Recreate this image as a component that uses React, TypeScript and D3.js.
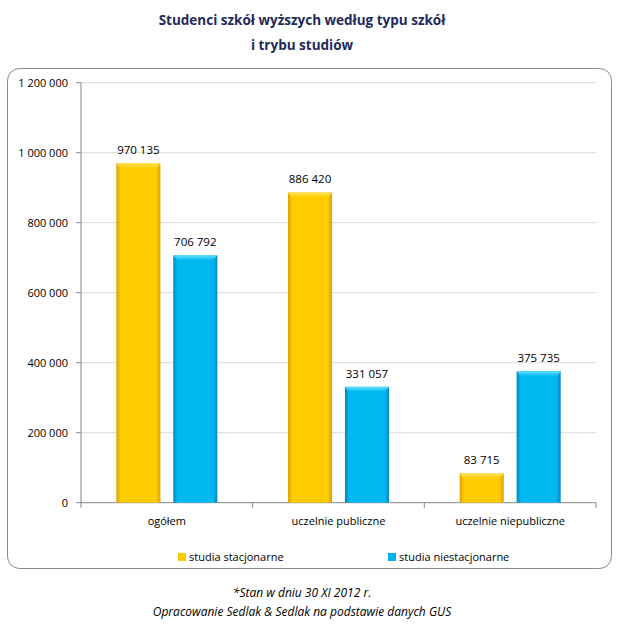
import React from "react";
import * as d3 from "d3";

const categories = ["ogółem", "uczelnie publiczne", "uczelnie niepubliczne"];
const seriesNames = ["studia stacjonarne", "studia niestacjonarne"];
const stacjonarne = [970135, 886420, 83715];
const niestacjonarne = [706792, 331057, 375735];
const yTicks = [0, 200000, 400000, 600000, 800000, 1000000, 1200000];
const titleLines = ["Studenci szkół wyższych według typu szkół", "i trybu studiów"];
const footLines = ["*Stan w dniu 30 XI 2012 r.", "Opracowanie Sedlak & Sedlak na podstawie danych GUS"];

const W = 620, H = 629;
const FONT = "'Open Sans', 'Noto Sans', sans-serif";
const plot = { left: 81, right: 596, top: 82.7, bottom: 502.7 };
const colors = [
  { base: "#FFCC00", dark: "#D9A400", light: "#FFE45C" },
  { base: "#00B8F0", dark: "#0088C0", light: "#66E0FF" },
];

const fmt = (v: number) => d3.format(",")(v).replace(/,/g, " ");

export default function App() {
  const x0 = d3.scaleBand<string>().domain(categories).range([plot.left, plot.right]).paddingInner(0).paddingOuter(0);
  const x1 = d3.scaleBand<string>().domain(seriesNames).range([0, x0.bandwidth()]).paddingInner(0.226).paddingOuter(0.62);
  const y = d3.scaleLinear().domain([0, 1200000]).range([plot.bottom, plot.top]);
  const data = [stacjonarne, niestacjonarne];

  return (
    <svg width={W} height={H} style={{ position: "absolute", left: 0, top: 0, background: "#fff" }}>
      <defs>
        {colors.map((c, i) => (
          <linearGradient key={i} id={`g${i}`} x1="0" x2="1" y1="0" y2="0">
            <stop offset="0" stopColor={c.dark} />
            <stop offset="0.1" stopColor={c.base} />
            <stop offset="0.9" stopColor={c.base} />
            <stop offset="1" stopColor={c.dark} />
          </linearGradient>
        ))}
        {colors.map((c, i) => (
          <linearGradient key={"t" + i} id={`t${i}`} x1="0" x2="0" y1="0" y2="1">
            <stop offset="0" stopColor={c.light} />
            <stop offset="1" stopColor={c.base} />
          </linearGradient>
        ))}
      </defs>
      {titleLines.map((t, i) => (
        <text key={i} x={302} y={25 + i * 25} textAnchor="middle" fontFamily={FONT} fontWeight="bold" fontSize={13.5} fill="#1F2B5C">
          {t}
        </text>
      ))}
      <rect x={7.5} y={68.5} width={604} height={500} rx={12} fill="#fff" stroke="#8a8a8a" strokeWidth={1} />
      {yTicks.map((t) => (
        <g key={t}>
          {t > 0 && <line x1={plot.left} x2={plot.right} y1={y(t)} y2={y(t)} stroke="#d9d9d9" />}
          <line x1={plot.left - 5} x2={plot.left} y1={y(t)} y2={y(t)} stroke="#868686" />
          <text x={68} y={y(t) + 4} textAnchor="end" fontFamily={FONT} fontSize={11} fill="#000">
            {fmt(t)}
          </text>
        </g>
      ))}
      <line x1={plot.left} x2={plot.left} y1={plot.top} y2={plot.bottom} stroke="#868686" />
      <line x1={plot.left} x2={plot.right} y1={plot.bottom} y2={plot.bottom} stroke="#868686" />
      {[...categories.map((c) => x0(c)!), plot.right].map((v, i) => (
        <line key={i} x1={v} x2={v} y1={plot.bottom} y2={plot.bottom + 5} stroke="#868686" />
      ))}
      {categories.map((c, ci) => (
        <g key={c}>
          {data.map((arr, si) => {
            const bx = x0(c)! + x1(seriesNames[si])!;
            const bw = x1.bandwidth();
            const by = y(arr[ci]);
            const bh = plot.bottom - by;
            return (
              <g key={si}>
                <rect x={bx} y={by} width={bw} height={bh} fill={`url(#g${si})`} />
                <path d={`M${bx},${by}L${bx + bw},${by}L${bx + bw - 4},${by + 5}L${bx + 4},${by + 5}Z`} fill={`url(#t${si})`} />
                <text x={bx + bw / 2} y={by - 9} textAnchor="middle" fontFamily={FONT} fontSize={11.5} fill="#000">
                  {fmt(arr[ci])}
                </text>
              </g>
            );
          })}
          <text x={x0(c)! + x0.bandwidth() / 2} y={525} textAnchor="middle" fontFamily={FONT} fontSize={11} fill="#000">
            {c}
          </text>
        </g>
      ))}
      {seriesNames.map((s, i) => {
        const lx = i === 0 ? 178 : 388;
        return (
          <g key={s}>
            <rect x={lx} y={553} width={8} height={8} fill={`url(#g${i})`} />
            <text x={lx + 11} y={561} fontFamily={FONT} fontSize={11} fill="#000">
              {s}
            </text>
          </g>
        );
      })}
      {footLines.map((t, i) => (
        <text key={i} x={302} y={597 + i * 19} textAnchor="middle" fontFamily={FONT} fontStyle="italic" fontSize={12} fill="#000">
          {t}
        </text>
      ))}
    </svg>
  );
}
